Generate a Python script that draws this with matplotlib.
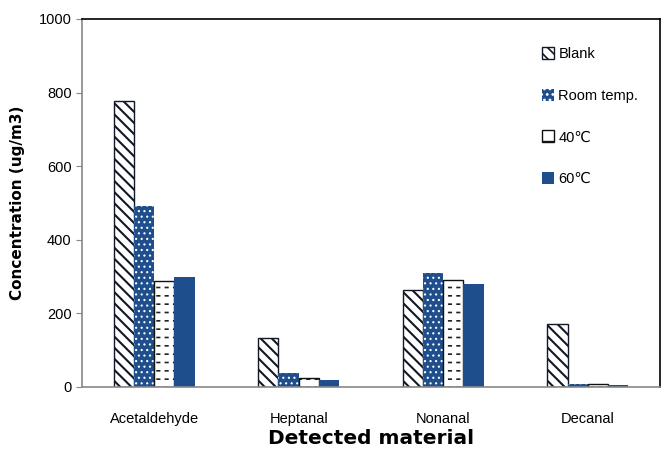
import matplotlib.pyplot as plt
import numpy as np

fams = ['Liberation Sans', 'DejaVu Sans', 'Noto Sans CJK SC']
plt.rcParams['font.family'] = fams

categories = ['Acetaldehyde', 'Heptanal', 'Nonanal', 'Decanal']
series = ['Blank', 'Room temp.', '40\u2103', '60\u2103']
blank = [777, 133, 263, 171]
room = [492, 39, 310, 9]
t40 = [289, 23, 290, 9]
t60 = [300, 18, 280, 5]
yticks = [0, 200, 400, 600, 800, 1000]

blue = '#1f4e8c'
fig = plt.figure(figsize=(6.66, 4.73), dpi=100)
ax = fig.add_axes([0.123, 0.182, 0.868, 0.778])

x = np.arange(len(categories))
w = 0.14

plt.rcParams['hatch.linewidth'] = 1.5
ax.bar(x - 1.5*w, blank, w, facecolor='white', edgecolor='#111827', hatch='\\\\\\', linewidth=1, label=series[0])

plt.rcParams['hatch.linewidth'] = 0.8
ax.bar(x - 0.5*w, room, w, facecolor=blue, edgecolor='white', hatch='...', linewidth=0, label=series[1])

# 40C: horizontal lines cut into short dashes by white vertical hatch
plt.rcParams['hatch.linewidth'] = 1.2
ax.bar(x + 0.5*w, t40, w, facecolor='white', edgecolor='#222222', hatch='--', linewidth=0)
plt.rcParams['hatch.linewidth'] = 3.0
ax.bar(x + 0.5*w, t40, w, facecolor='none', edgecolor='white', hatch='||', linewidth=0)
plt.rcParams['hatch.linewidth'] = 1.2
ax.bar(x + 0.5*w, t40, w, facecolor='none', edgecolor='#111111', linewidth=1)
ax.bar([0], [0], 0, facecolor='white', edgecolor='#111111', hatch='-', linewidth=1, label=series[2])

ax.bar(x + 1.5*w, t60, w, facecolor=blue, edgecolor=blue, linewidth=0, label=series[3])

ax.set_xlim(-0.5, 3.5)
ax.set_ylim(0, 1000)
ax.set_yticks(yticks)
ax.set_xticks(x)
ax.set_xticklabels(categories, fontsize=10.5)
for t in ax.get_yticklabels():
    t.set_fontsize(10.5)
ax.tick_params(axis='x', length=0, pad=18)
ax.tick_params(axis='y', length=4, color='#888888', direction='out')

for s in ['left', 'bottom']:
    ax.spines[s].set_color('#888888')
    ax.spines[s].set_linewidth(1.2)
for s in ['top', 'right']:
    ax.spines[s].set_color('black')
    ax.spines[s].set_linewidth(1.2)

ax.set_ylabel('Concentration (ug/m3)', fontsize=11, fontweight='bold', labelpad=10,
              family=['DejaVu Sans'])
ax.set_xlabel('Detected material', fontsize=14.5, fontweight='bold', labelpad=2,
              family=['DejaVu Sans'])

ax.legend(loc='upper right', frameon=False, labelspacing=1.9,
          handlelength=0.8, handleheight=0.9, handletextpad=0.3,
          bbox_to_anchor=(0.985, 0.96), prop={'family': fams, 'size': 10.5})

fig.savefig('out.png', dpi=100)
